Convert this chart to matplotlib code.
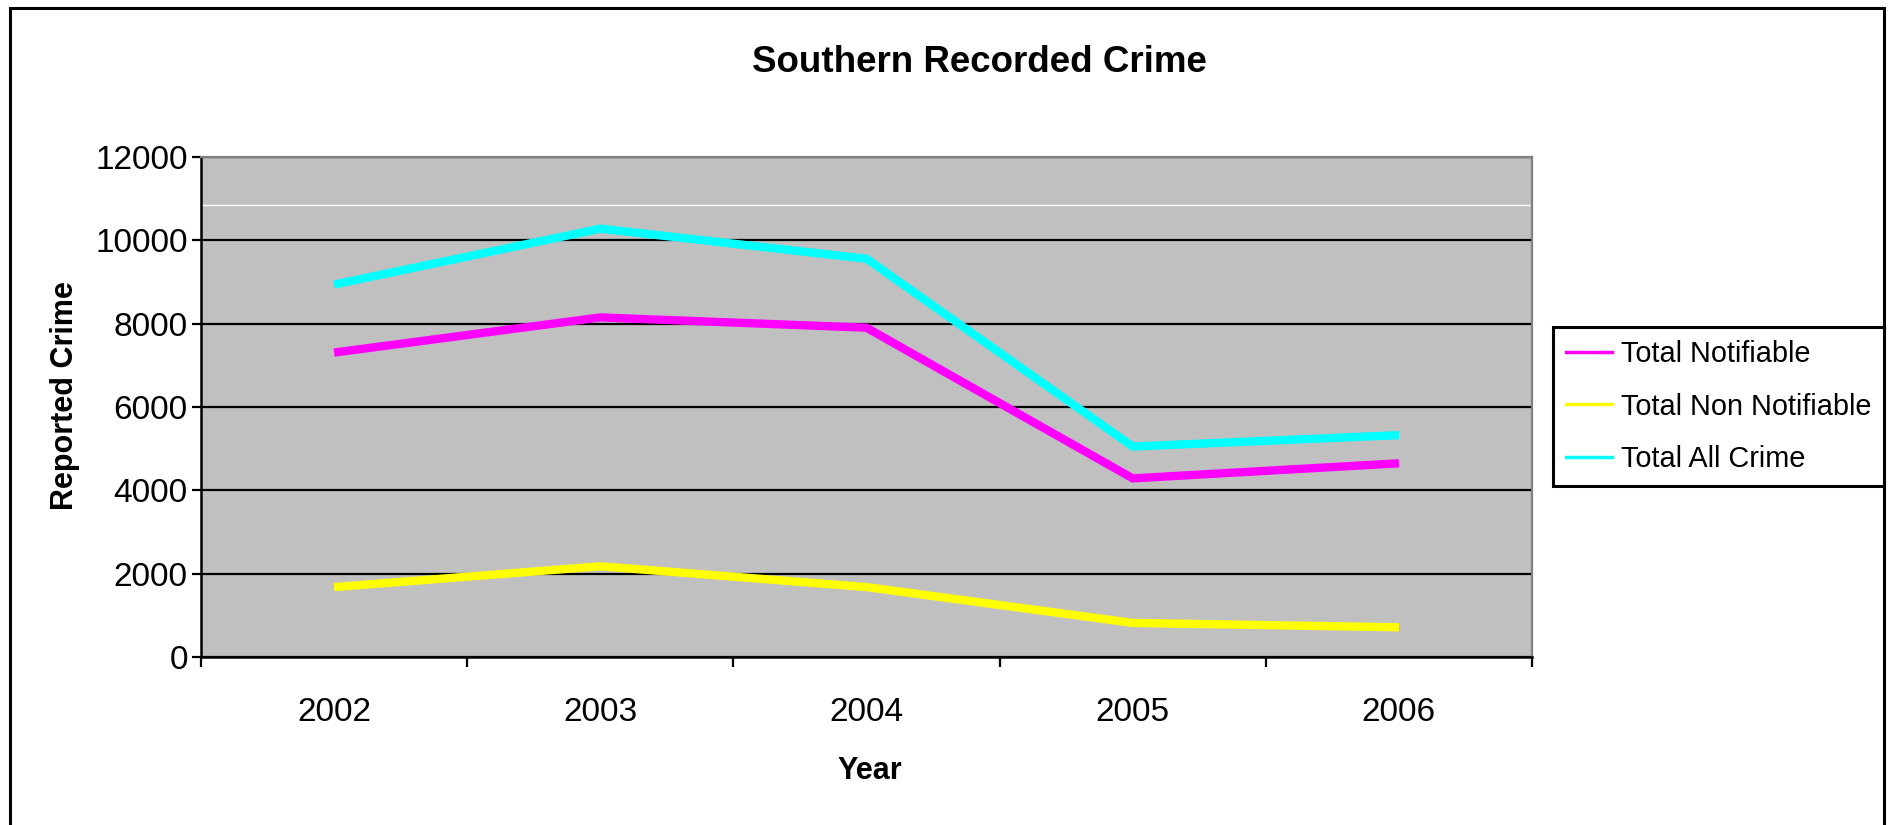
"""
Southern Recorded Crime, 2002-2006, redrawn from an old spreadsheet chart.
"""

import numpy as np
import matplotlib
matplotlib.use("Agg")
import matplotlib.pyplot as plt
from matplotlib.patches import Rectangle
from matplotlib.lines import Line2D

#### DATA #####
years = ["2002", "2003", "2004", "2005", "2006"]
total_notifiable = [7306, 8150, 7903, 4287, 4649]
total_non_notifiable = [1678, 2177, 1678, 818, 713]
total_all_crime = [8939, 10281, 9558, 5051, 5325]
series_names = ["Total Notifiable", "Total Non Notifiable", "Total All Crime"]
series_colours = ["#FF00FF", "#FFFF00", "#00FFFF"]
y_ticks = [0, 2000, 4000, 6000, 8000, 10000, 12000]
white_line_level = 10850
###############

plt.rcParams["font.family"] = ["Liberation Sans", "DejaVu Sans"]

W, H = 1890, 825
fig = plt.figure(figsize=(W / 100, H / 100), dpi=100)

# Outer chart border (bottom edge runs off the image)
fig.add_artist(Rectangle((10 / W, -0.2), 1874 / W, 0.2 + (H - 8) / H,
                         transform=fig.transFigure, fill=False,
                         edgecolor="black", linewidth=2.2))

# Plot area in pixels: x 201-1532, y 157-657
ax = fig.add_axes([201 / W, (H - 657) / H, 1331 / W, 500 / H])
ax.set_facecolor("#C0C0C0")

x = np.arange(len(years))
for values, colour in zip([total_notifiable, total_non_notifiable, total_all_crime], series_colours):
    ax.plot(x, values, color=colour, linewidth=6, solid_capstyle="butt",
            solid_joinstyle="miter", zorder=3)

# Odd thin white line near the top of the plot area
ax.axhline(white_line_level, color="white", linewidth=1, zorder=1)

ax.set_xlim(-0.5, len(years) - 0.5)
ax.set_ylim(y_ticks[0], y_ticks[-1])

# Gridlines
ax.set_axisbelow(True)
ax.yaxis.grid(True, color="black", linewidth=1.6)

# Y axis
ax.set_yticks(y_ticks)
ax.set_yticklabels([str(v) for v in y_ticks])
ax.tick_params(axis="y", direction="out", length=6.5, width=1.6, pad=3,
               labelsize=24, colors="black")

# X axis: ticks at category boundaries, labels centred in categories
ax.set_xticks(np.arange(len(years) + 1) - 0.5)
ax.set_xticklabels([])
ax.set_xticks(x, minor=True)
ax.set_xticklabels(years, minor=True)
ax.tick_params(axis="x", which="major", direction="out", length=7, width=1.6)
ax.tick_params(axis="x", which="minor", length=0, pad=29, labelsize=24)

# Spines
for side in ["left", "bottom"]:
    ax.spines[side].set_color("black")
    ax.spines[side].set_linewidth(1.8)
for side in ["top", "right"]:
    ax.spines[side].set_color("#808080")
    ax.spines[side].set_linewidth(1.6)

# Axis labels
ax.set_xlabel("Year", fontsize=22, fontweight="bold", va="center")
ax.xaxis.set_label_coords((870 - 201) / 1331, (657 - 771) / 500)
ax.set_ylabel("Reported Crime", fontsize=22, fontweight="bold", va="center")
ax.yaxis.set_label_coords((65 - 201) / 1331, (657 - 396) / 500)

# Title
fig.text(979 / W, (H - 62) / H, "Southern Recorded Crime", fontsize=26.5,
         fontweight="bold", ha="center", va="center")

# Legend
handles = [Line2D([], [], color=c, linewidth=2.5) for c in series_colours]
leg = fig.legend(handles, series_names, loc="upper left",
                 bbox_to_anchor=(1553 / W, (H - 327) / H),
                 bbox_transform=fig.transFigure, borderaxespad=0,
                 fontsize=20.8, frameon=True, fancybox=False, shadow=False,
                 handlelength=1.6, handletextpad=0.3, labelspacing=0.85,
                 borderpad=0.45)
leg.get_frame().set_edgecolor("black")
leg.get_frame().set_linewidth(2.2)
leg.get_frame().set_alpha(1)

fig.savefig("out.png", dpi=100, facecolor="white")
